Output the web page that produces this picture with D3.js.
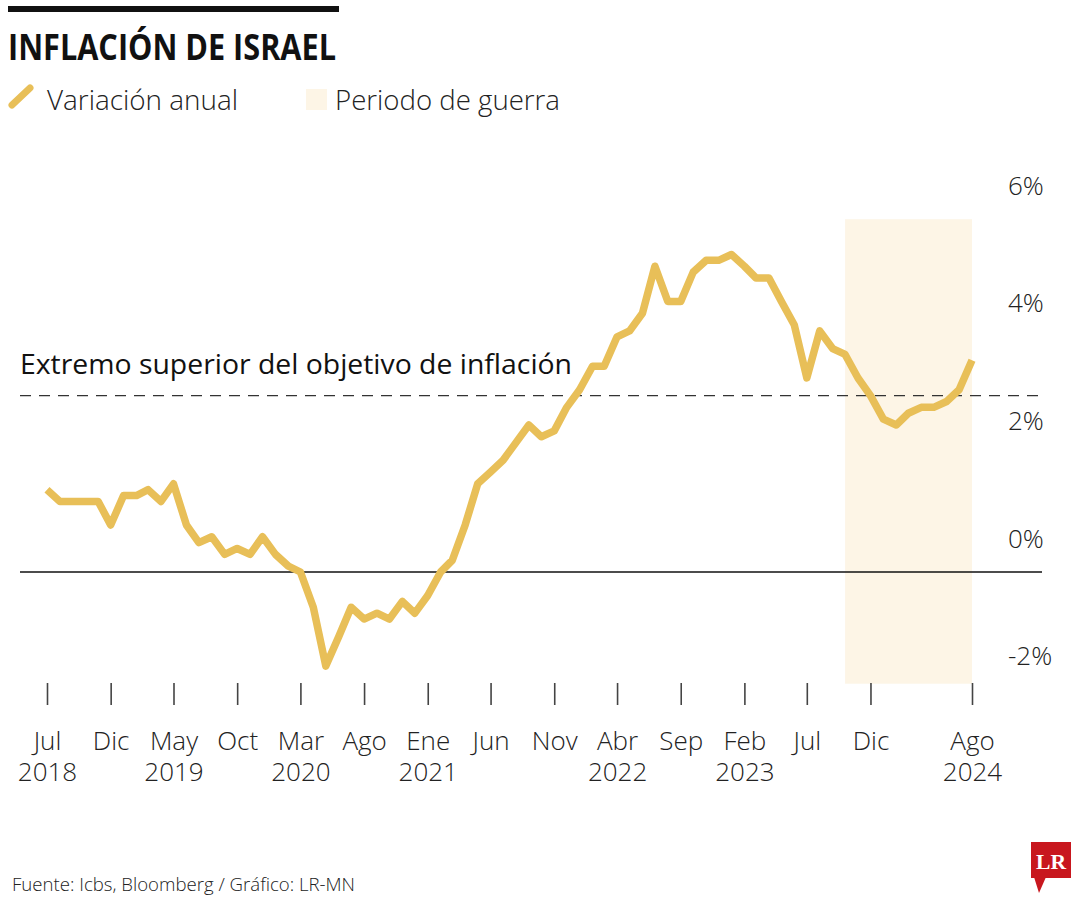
<!DOCTYPE html>
<html><head><meta charset="utf-8">
<script src="https://cdn.jsdelivr.net/npm/d3@7"></script>
<style>
body{margin:0;background:#fff;}
svg text{font-family:"Open Sans","Noto Sans",sans-serif;}
</style></head>
<body><svg id="c" width="1080" height="900"></svg>
<script>
// ---- data ----
const firstMonth = "2018-07";
const inflation = [
  1.4, 1.2, 1.2, 1.2, 1.2, 0.8,
  1.3, 1.3, 1.4, 1.2, 1.5, 0.8, 0.5, 0.6, 0.3, 0.4, 0.3, 0.6,
  0.3, 0.1, 0.0, -0.6, -1.6, -1.1, -0.6, -0.8, -0.7, -0.8, -0.5, -0.7,
  -0.4, 0.0, 0.2, 0.8, 1.5, 1.7, 1.9, 2.2, 2.5, 2.3, 2.4, 2.8,
  3.1, 3.5, 3.5, 4.0, 4.1, 4.4, 5.2, 4.6, 4.6, 5.1, 5.3, 5.3,
  5.4, 5.2, 5.0, 5.0, 4.6, 4.2, 3.3, 4.1, 3.8, 3.7, 3.3, 3.0,
  2.6, 2.5, 2.7, 2.8, 2.8, 2.9, 3.1, 3.6
];
const tickMonths = ["2018-07","2018-12","2019-05","2019-10","2020-03","2020-08","2021-01","2021-06","2021-11","2022-04","2022-09","2023-02","2023-07","2023-12","2024-08"];
const tickMonthLabels = ["Jul","Dic","May","Oct","Mar","Ago","Ene","Jun","Nov","Abr","Sep","Feb","Jul","Dic","Ago"];
const tickYearLabels = ["2018","","2019","","2020","","2021","","","2022","","2023","","","2024"];
const yTicks = [-2, 0, 2, 4, 6];
const targetUpper = 3;
const warPeriod = ["2023-10", "2024-08"];
const shadeRange = [-1.9, 6];
const titleText = "INFLACIÓN DE ISRAEL";
const legendLabels = ["Variación anual", "Periodo de guerra"];
const targetLabel = "Extremo superior del objetivo de inflación";
const sourceText = "Fuente: Icbs, Bloomberg / Gráfico: LR-MN";

// ---- setup ----
const parse = d3.timeParse("%Y-%m");
const start = parse(firstMonth);
const series = inflation.map((v, i) => ({date: d3.timeMonth.offset(start, i), value: v}));
const lineColor = "#E8BF58";
const shadeColor = "#FDF5E6";

const svg = d3.select("#c");
const x = d3.scaleTime()
  .domain([start, series[series.length - 1].date])
  .range([47, 972]);
const y = d3.scaleLinear().domain([0, 6]).range([572, 572 - 6 * 58.8]);

// header
svg.append("rect").attr("x", 8).attr("y", 6).attr("width", 331).attr("height", 6).attr("fill", "#111");
svg.append("text").attr("x", 8).attr("y", 60)
  .style("font-family", "'Liberation Sans Narrow','Open Sans',sans-serif")
  .attr("font-weight", 700).attr("font-size", 35).attr("fill", "#111")
  .attr("textLength", 328).attr("lengthAdjust", "spacingAndGlyphs")
  .text(titleText);

// legend
svg.append("line").attr("x1", 12).attr("y1", 105).attr("x2", 30).attr("y2", 88)
  .attr("stroke", lineColor).attr("stroke-width", 7).attr("stroke-linecap", "round");
svg.append("text").attr("x", 47).attr("y", 110).attr("font-size", 27).attr("font-weight", 300)
  .attr("fill", "#222").attr("textLength", 191).attr("lengthAdjust", "spacingAndGlyphs").text(legendLabels[0]);
svg.append("rect").attr("x", 306).attr("y", 89).attr("width", 21).attr("height", 21).attr("fill", shadeColor);
svg.append("text").attr("x", 335).attr("y", 110).attr("font-size", 27).attr("font-weight", 300)
  .attr("fill", "#222").attr("textLength", 225).attr("lengthAdjust", "spacingAndGlyphs").text(legendLabels[1]);

// war shading
svg.append("rect")
  .attr("x", x(parse(warPeriod[0])))
  .attr("width", x(parse(warPeriod[1])) - x(parse(warPeriod[0])))
  .attr("y", y(shadeRange[1]))
  .attr("height", y(shadeRange[0]) - y(shadeRange[1]))
  .attr("fill", shadeColor);

// target line
svg.append("line").attr("x1", 20).attr("x2", 1042).attr("y1", y(targetUpper)).attr("y2", y(targetUpper))
  .attr("stroke", "#333").attr("stroke-width", 1.2).attr("stroke-dasharray", "11,8");
svg.append("text").attr("x", 20).attr("y", 374).attr("font-size", 27).attr("fill", "#111")
  .attr("textLength", 552).attr("lengthAdjust", "spacingAndGlyphs").text(targetLabel);

// zero line
svg.append("line").attr("x1", 20).attr("x2", 1042).attr("y1", y(0)).attr("y2", y(0))
  .attr("stroke", "#111").attr("stroke-width", 1.3);

// y axis labels
const yAxis = d3.axisRight(y).tickValues(yTicks).tickSize(0).tickPadding(0).tickFormat(d => d + "%");
const gy = svg.append("g").attr("transform", "translate(1008,0)").call(yAxis);
gy.select(".domain").remove();
gy.selectAll("text").attr("font-size", 26).attr("font-weight", 300).attr("fill", "#222")
  .attr("font-family", null).attr("dy", "0.35em").attr("y", -34).attr("x", 0);

// x axis
const xAxis = d3.axisBottom(x).tickValues(tickMonths.map(parse)).tickSize(22).tickFormat("");
const gx = svg.append("g").attr("transform", "translate(0,683)").call(xAxis);
gx.select(".domain").remove();
gx.selectAll(".tick line").attr("stroke", "#444").attr("stroke-width", 1.6);
gx.selectAll(".tick").each(function(d, i) {
  const g = d3.select(this);
  g.select("text").remove();
  g.append("text").attr("text-anchor", "middle").attr("font-size", 26).attr("font-weight", 300)
    .attr("fill", "#222").attr("x", 0).attr("y", 67).text(tickMonthLabels[i]);
  if (tickYearLabels[i]) {
    g.append("text").attr("text-anchor", "middle").attr("font-size", 26).attr("font-weight", 300)
      .attr("fill", "#222").attr("x", 0).attr("y", 98).text(tickYearLabels[i]);
  }
});

// data line
svg.append("path").datum(series)
  .attr("fill", "none").attr("stroke", lineColor).attr("stroke-width", 7.5)
  .attr("stroke-linejoin", "round").attr("stroke-linecap", "butt")
  .attr("d", d3.line().x(d => x(d.date)).y(d => y(d.value)));

// source
svg.append("text").attr("x", 12).attr("y", 891).attr("font-size", 19).attr("font-weight", 300)
  .attr("fill", "#222").attr("textLength", 343).attr("lengthAdjust", "spacingAndGlyphs").text(sourceText);

// LR logo
const logo = svg.append("g");
logo.append("rect").attr("x", 1031).attr("y", 842).attr("width", 40).attr("height", 36).attr("fill", "#C8171E");
logo.append("path").attr("d", "M1034,877 L1046,877 L1039,893 Z").attr("fill", "#C8171E");
logo.append("text").attr("x", 1051).attr("y", 869).attr("text-anchor", "middle")
  .style("font-family", "'Liberation Serif','DejaVu Serif',serif")
  .attr("font-weight", 700).attr("font-size", 22).attr("fill", "#fff")
  .attr("textLength", 30).attr("lengthAdjust", "spacingAndGlyphs").text("LR");
</script>
</body></html>
